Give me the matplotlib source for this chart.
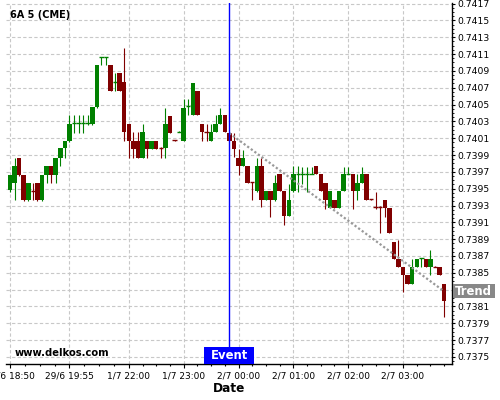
import matplotlib
matplotlib.use('Agg')
import matplotlib.pyplot as plt
import matplotlib.transforms as mtransforms
from matplotlib.patches import Rectangle
from matplotlib.ticker import FixedLocator, MultipleLocator, FixedFormatter


# 5 minute candles, 6A (CME)
opens = [0.73948, 0.73957, 0.73987, 0.73966, 0.73937, 0.73948, 0.73957, 0.73937, 0.73966, 0.73977,
         0.73966, 0.73987, 0.73998, 0.74007, 0.74027, 0.74027, 0.74027, 0.74027, 0.74027, 0.74047,
         0.74106, 0.74106, 0.74097, 0.74076, 0.74087, 0.74077, 0.74027, 0.74007, 0.74007, 0.73987,
         0.74007, 0.73997, 0.74007, 0.73999, 0.73998, 0.74036, 0.74008, 0.74017, 0.74007, 0.74048,
         0.74037, 0.74066, 0.74027, 0.74018, 0.74007, 0.74017, 0.74027, 0.74037, 0.74016, 0.74007,
         0.73987, 0.73977, 0.73977, 0.73958, 0.73947, 0.73977, 0.73936, 0.73947, 0.73936, 0.73967,
         0.73947, 0.73917, 0.73947, 0.73967, 0.73967, 0.73967, 0.73967, 0.73977, 0.73967, 0.73957,
         0.73927, 0.73937, 0.73927, 0.73947, 0.73967, 0.73967, 0.73947, 0.73957, 0.73967, 0.73938,
         0.73929, 0.73929, 0.73936, 0.73927, 0.73887, 0.73867, 0.73857, 0.73847, 0.73837, 0.73857,
         0.73867, 0.73866, 0.73857, 0.73858, 0.73857, 0.73837]
highs = [0.73966, 0.73986, 0.73987, 0.73966, 0.73957, 0.73957, 0.73957, 0.73966, 0.73977, 0.73977,
         0.73987, 0.73998, 0.74007, 0.74037, 0.74037, 0.74037, 0.74037, 0.74037, 0.74047, 0.74097,
         0.74107, 0.74107, 0.74097, 0.74087, 0.74087, 0.74117, 0.74027, 0.74017, 0.74017, 0.74027,
         0.74007, 0.74007, 0.74007, 0.73999, 0.74046, 0.74036, 0.74008, 0.74018, 0.74056, 0.74056,
         0.74076, 0.74066, 0.74027, 0.74027, 0.74027, 0.74037, 0.74046, 0.74037, 0.74016, 0.74016,
         0.73997, 0.73996, 0.73977, 0.73958, 0.73987, 0.73987, 0.73947, 0.73947, 0.73966, 0.73967,
         0.73947, 0.73956, 0.73977, 0.73977, 0.73976, 0.73976, 0.73976, 0.73977, 0.73967, 0.73957,
         0.73947, 0.73937, 0.73947, 0.73976, 0.73976, 0.73967, 0.73967, 0.73976, 0.73967, 0.73938,
         0.73946, 0.73929, 0.73936, 0.73927, 0.73887, 0.73889, 0.73857, 0.73847, 0.73866, 0.73866,
         0.73868, 0.73866, 0.73877, 0.73858, 0.73857, 0.73837]
lows = [0.73946, 0.73936, 0.73965, 0.73935, 0.73935, 0.73937, 0.73935, 0.73935, 0.73957, 0.73957,
        0.73957, 0.73977, 0.73986, 0.74006, 0.74016, 0.74016, 0.74016, 0.74026, 0.74026, 0.74046,
        0.74097, 0.74097, 0.74066, 0.74066, 0.74066, 0.74007, 0.73986, 0.73986, 0.73986, 0.73986,
        0.73987, 0.73997, 0.73997, 0.73986, 0.73986, 0.74016, 0.74007, 0.74017, 0.74007, 0.74037,
        0.74037, 0.74037, 0.74007, 0.74007, 0.74007, 0.74017, 0.74027, 0.74017, 0.74007, 0.73988,
        0.73966, 0.73977, 0.73957, 0.73936, 0.73946, 0.73928, 0.73936, 0.73916, 0.73935, 0.73947,
        0.73907, 0.73917, 0.73946, 0.73946, 0.73956, 0.73946, 0.73967, 0.73967, 0.73947, 0.73926,
        0.73927, 0.73927, 0.73927, 0.73947, 0.73967, 0.73926, 0.73937, 0.73957, 0.73937, 0.73937,
        0.73926, 0.73897, 0.73916, 0.73897, 0.73867, 0.73857, 0.73827, 0.73837, 0.73837, 0.73857,
        0.73857, 0.73857, 0.73847, 0.73857, 0.73847, 0.73797]
closes = [0.73966, 0.73977, 0.73966, 0.73937, 0.73957, 0.73947, 0.73937, 0.73966, 0.73977, 0.73966,
          0.73987, 0.73998, 0.74007, 0.74027, 0.74028, 0.74028, 0.74028, 0.74028, 0.74047, 0.74097,
          0.74107, 0.74107, 0.74066, 0.74077, 0.74066, 0.74017, 0.74007, 0.73997, 0.73987, 0.74017,
          0.73997, 0.74007, 0.73997, 0.73998, 0.74027, 0.74016, 0.74007, 0.74018, 0.74046, 0.74049,
          0.74076, 0.74037, 0.74017, 0.74017, 0.74017, 0.74027, 0.74037, 0.74017, 0.74007, 0.73997,
          0.73977, 0.73987, 0.73957, 0.73957, 0.73977, 0.73936, 0.73947, 0.73936, 0.73957, 0.73947,
          0.73917, 0.73936, 0.73967, 0.73968, 0.73968, 0.73968, 0.73968, 0.73967, 0.73947, 0.73937,
          0.73947, 0.73927, 0.73947, 0.73967, 0.73968, 0.73947, 0.73957, 0.73967, 0.73937, 0.73937,
          0.73928, 0.73928, 0.73927, 0.73897, 0.73867, 0.73857, 0.73847, 0.73837, 0.73857, 0.73866,
          0.73868, 0.73857, 0.73866, 0.73857, 0.73847, 0.73817]

tick_pos = [0, 13, 26, 38, 50, 62, 74, 86]
tick_labels = ['29/6 18:50', '29/6 19:55', '1/7 22:00', '1/7 23:00',
               '2/7 00:00', '2/7 01:00', '2/7 02:00', '2/7 03:00']

price_ticks = [0.7375, 0.7377, 0.7379, 0.7381, 0.7383, 0.7385, 0.7387, 0.7389, 0.7391, 0.7393,
               0.7395, 0.7397, 0.7399, 0.7401, 0.7403, 0.7405, 0.7407, 0.7409, 0.7411, 0.7413,
               0.7415, 0.7417]
hidden_price = 0.7383  # covered by the Trend tag

event_idx = 48
trend_x = [48, 95]
trend_y = [0.74016, 0.73828]
trend_label_price = 0.73828

GREEN = '#008000'
RED = '#800000'

fig = plt.figure(figsize=(5, 4), dpi=100)
ax = fig.add_axes([0.012, 0.08925, 0.8926, 0.9025])

# candles
for i in range(len(opens)):
    o, h, l, c = opens[i], highs[i], lows[i], closes[i]
    col = GREEN if c >= o else RED
    ax.vlines(i, l, h, color=col, lw=0.8, zorder=3)
    if abs(c - o) < 0.000015:
        ax.hlines((o + c) / 2, i - 0.48, i + 0.48, color=col, lw=1.0, zorder=3)
    else:
        ax.bar(i, abs(c - o), bottom=min(o, c), width=0.98, color=col,
               linewidth=0, zorder=3)

# trend + event
ax.plot(trend_x, trend_y, color='#999999', lw=1.6, linestyle=(0, (1, 1)), zorder=4)
ax.axvline(event_idx, color='#0000ff', lw=1, zorder=5)

ax.set_xlim(-0.875, 96.78)
ax.set_ylim(0.737413, 0.741703)

# axes styling
for side in ['left', 'top']:
    ax.spines[side].set_visible(False)
for side in ['right', 'bottom']:
    ax.spines[side].set_linewidth(1)
ax.yaxis.tick_right()
ax.yaxis.set_major_locator(FixedLocator(price_ticks))
ax.yaxis.set_minor_locator(MultipleLocator(0.00005))
ax.yaxis.set_major_formatter(FixedFormatter(
    ['' if abs(p - hidden_price) < 1e-7 else '%.4f' % p for p in price_ticks]))

minor = []
edges = tick_pos + [tick_pos[-1] + 12]
for a, b in zip(edges[:-1], edges[1:]):
    minor += [a + (b - a) * k / 4 for k in (1, 2, 3)]
ax.xaxis.set_major_locator(FixedLocator(tick_pos))
ax.xaxis.set_minor_locator(FixedLocator(minor))
ax.set_xticklabels(tick_labels)

ax.tick_params(axis='x', which='major', length=3, width=0.8, pad=2.5, labelsize=6.5)
ax.tick_params(axis='x', which='minor', length=1.7, width=0.8)
ax.tick_params(axis='y', which='major', length=2.4, width=0.8, pad=1, labelsize=6.7)
ax.tick_params(axis='y', which='minor', length=1.2, width=0.6)

ax.grid(True, which='major', color='#c8c8c8', linestyle=(0, (3, 2)), lw=0.8)
ax.set_axisbelow(True)

ax.set_xlabel('Date', fontsize=8.7, fontweight='bold', labelpad=1)

# Event tag at the bottom of the event line
trans_ev = mtransforms.blended_transform_factory(ax.transData, ax.transAxes)
ax.add_patch(Rectangle((event_idx - 5.45, 0.0), 10.9, 0.047, transform=trans_ev,
                       fc='#0000ff', ec='none', zorder=9, clip_on=False))
ax.text(event_idx, 0.0235, 'Event', transform=trans_ev, ha='center', va='center',
        color='white', fontsize=8.4, fontweight='bold', zorder=10, clip_on=False)

# Trend tag on the price axis
trans_tr = mtransforms.blended_transform_factory(ax.transAxes, ax.transData)
ax.add_patch(Rectangle((1.001, trend_label_price - 0.0000832), 0.0945, 0.0001664,
                       transform=trans_tr, fc='#888888', ec='none', zorder=9, clip_on=False))
ax.text(1.0483, trend_label_price, 'Trend', transform=trans_tr, ha='center', va='center',
        color='white', fontsize=8.4, fontweight='bold', zorder=10, clip_on=False)

fig.text(10 / 500, 1 - 15.5 / 400, '6A 5 (CME)', fontsize=7, fontweight='bold', va='center')
fig.text(15 / 500, 1 - 353.5 / 400, 'www.delkos.com', fontsize=7.2, fontweight='bold',
         va='center')

plt.savefig('out.png', dpi=100)
plt.close()
